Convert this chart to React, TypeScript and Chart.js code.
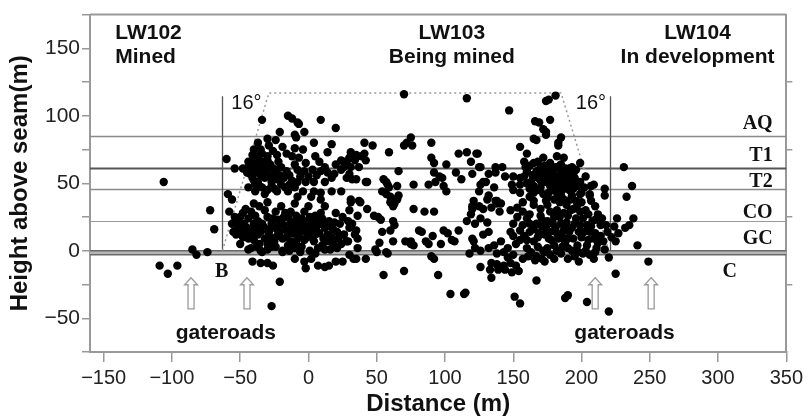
import React, { useEffect, useRef } from "react";
import { Chart, registerables } from "chart.js";

Chart.register(...registerables);

type P = [number, number];

// ---------- axes ----------
const xTickValues = [-150, -100, -50, 0, 50, 100, 150, 200, 250, 300, 350];
const yTickValues = [-75, -50, -25, 0, 25, 50, 75, 100, 125, 150, 175];
const yLabelValues = [-50, 0, 50, 100, 150];
const yRightTickValues = [-25, 25, 75, 125];

// ---------- strata / geometry (data units) ----------
const seamLevelNames = ["AQ", "T1", "T2", "CO"];
const seamLevels = [85, 61, 46, 22];
const gcLevels = [0, -3];
const seamLabelNames = ["AQ", "T1", "T2", "CO", "GC"];
const seamLabelHeights = [94, 70, 51, 28, 9];
const panelNames = ["LW102", "LW103", "LW104"];
const panelStates = ["Mined", "Being mined", "In development"];
const gateroadArrowX = [-86, -45, 210, 251];
const angleLineX = [-63, 221];
const angleLineTop = 114.5;
const angleZone: P[] = [[-63, 0], [-29, 117], [185, 117], [220, 0]];

// ---------- microseismic events (distance m, height above seam m) ----------
const eventsOuterLeft: P[] = [
  [-106, 51], [-109, -11], [-103, -17], [-96, -11], [-85, 1], [-82, -3], [-74, -1],
  [-72, 30], [-69, 16], [-60, 68], [-54, 61], [-48, 61], [-59, 42], [-56, 38],
  [-41, -8], [-35, -9], [-30, -9], [-26, -11], [-42, 2], [-34, -1], [-19, -1],
  [-21, -23], [-27, -41],
];

const eventsLeftUpper: P[] = [
  [-15, 100], [-12, 98], [-34, 97], [-7, 94], [9, 97], [20, 91], [-21, 88], [-10, 86],
  [-9, 84], [-30, 83], [-37, 80], [4, 80], [17, 79], [-19, 77], [-10, 76], [-4, 75],
  [14, 73], [-41, 71], [-37, 70], [-34, 72], [-23, 71], [-12, 70], [-7, 69], [-44, 66],
  [-39, 65], [-34, 66], [-30, 67], [8, 66], [24, 67], [26, 66], [-42, 60], [-37, 61],
  [-32, 59], [-26, 61], [-20, 62], [-16, 59], [-10, 64], [-8, 60], [-3, 59], [3, 60],
  [9, 59], [14, 58], [19, 57], [24, 60], [28, 64], [-41, 54], [-37, 51], [-32, 54],
  [-27, 51], [-23, 53], [-39, 49], [-34, 47], [-27, 48], [-20, 49], [-14, 49], [-8, 51],
  [-2, 51], [4, 51], [12, 51], [17, 54], [-39, 44], [-32, 42], [-23, 44], [-15, 44],
  [-10, 47], [-4, 44], [4, 44], [9, 43], [17, 44], [24, 44], [-8, 40], [2, 40], [9, 38],
  [-3, 88], [-8, 95], [-44, 62], [-40, 68], [-36, 63], [-28, 64], [-25, 57], [-35, 56],
  [-30, 70], [-43, 57], [-22, 66], [-45, 58], [-42, 64], [-38, 58], [-36, 67], [-33, 62],
  [-31, 57], [-29, 61], [-27, 55], [-24, 60], [-21, 56], [-18, 54], [-14, 56], [-40, 52],
  [-36, 48], [-30, 45], [-25, 46], [-44, 47], [-17, 47], [-12, 52], [-6, 55], [0, 55],
  [6, 56], [-35, 75], [-26, 74], [-29, 78], [-40, 75], [-24, 82], [-16, 72], [-2, 65],
  [5, 70], [12, 62], [20, 64],
];

const eventsLeftLower: P[] = [
  [-58, 29], [-54, 25], [-56, 20], [-52, 18], [-55, 14], [-53, 12], [-49, 16], [-47, 20],
  [-44, 24], [-42, 29], [-46, 31], [-39, 26], [-37, 22], [-38, 17], [-35, 14], [-41, 12],
  [-44, 9], [-32, 9], [-28, 16], [-27, 20], [-30, 25], [-32, 30], [-24, 29], [-22, 23],
  [-25, 18], [-21, 14], [-19, 9], [-25, 7], [-18, 19], [-15, 25], [-13, 29], [-10, 22],
  [-8, 17], [-11, 13], [-7, 11], [-5, 24], [-3, 29], [1, 25], [0, 19], [-2, 14], [2, 12],
  [4, 7], [6, 18], [7, 23], [9, 28], [12, 17], [14, 12], [15, 22], [18, 16], [21, 14],
  [26, 12], [28, 7], [-13, 7], [-9, 5], [-3, 8], [14, 7], [18, 5], [24, 5], [-44, 1],
  [-35, 0], [-19, 0], [-10, 2], [1, 0], [7, 2], [12, 1], [21, 2], [-10, -6], [-3, -8],
  [2, -6], [-2, -13], [7, -11], [12, -12], [15, -11], [20, -8], [25, -8], [-50, 25],
  [-40, 20], [-33, 18], [-29, 12], [-23, 11], [-16, 15], [-12, 18], [-6, 20], [-1, 22],
  [3, 16], [9, 20], [11, 9], [5, 26], [-17, 28], [-48, 10], [-36, 5], [-27, 3], [-15, 4],
  [-5, 3], [10, 4], [17, 10], [23, 20], [30, 30], [-20, 33], [-10, 35], [0, 33], [12, 33],
  [20, 28], [25, 25], [-40, 35], [-30, 36], [-52, 22], [-50, 14], [-46, 12], [-45, 17],
  [-42, 16], [-40, 8], [-37, 12], [-34, 20], [-31, 16], [-30, 5], [-27, 9], [-26, 24],
  [-23, 16], [-20, 20], [-18, 25], [-16, 10], [-13, 21], [-12, 13], [-9, 26], [-8, 9],
  [-6, 15], [-4, 18], [-1, 10], [1, 15], [3, 21], [5, 12], [8, 13], [10, 24], [13, 20],
  [16, 18], [19, 21], [22, 9], [-38, 3], [-30, 1], [-24, 3], [-14, 0], [-6, -1], [5, -2],
  [16, 1], [-50, 5], [-48, 28], [-36, 33],
];

const eventsMiddleUpper: P[] = [
  [70, 116], [116, 113], [75, 84], [72, 80], [76, 78], [70, 78], [90, 80], [41, 80],
  [47, 78], [59, 73], [31, 73], [35, 71], [39, 70], [41, 72], [30, 69], [34, 67], [28, 66],
  [37, 62], [42, 67], [110, 72], [116, 73], [123, 72], [90, 69], [92, 65], [119, 66],
  [101, 64], [108, 58], [112, 53], [66, 59], [30, 57], [32, 53], [35, 53], [28, 54],
  [92, 58], [96, 55], [98, 54], [93, 51], [43, 51], [57, 51], [58, 49], [65, 48], [77, 49],
  [88, 49], [99, 48], [101, 44], [54, 44], [31, 38], [37, 37], [66, 41], [64, 38], [61, 37],
  [121, 37], [36, 70], [31, 62], [26, 62], [42, 51], [55, 53], [59, 47], [57, 42], [60, 40],
  [63, 35], [125, 62], [120, 57], [132, 57], [137, 62], [144, 55], [125, 44], [130, 51],
  [120, 33], [125, 33], [132, 41], [137, 37],
];

const eventsMiddleLower: P[] = [
  [31, 36], [38, 36], [43, 31], [60, 36], [62, 33], [65, 38], [77, 31], [85, 29], [92, 29],
  [120, 31], [119, 27], [48, 26], [51, 25], [53, 23], [36, 26], [62, 22], [63, 19], [60, 15],
  [29, 22], [32, 20], [30, 17], [35, 15], [34, 12], [36, 9], [29, 7], [26, 12], [54, 14],
  [52, 6], [62, 7], [36, 2], [49, 1], [57, -1], [58, -2], [71, 7], [75, 7], [77, 4],
  [75, 5], [81, 15], [83, 14], [86, 7], [88, 5], [91, 11], [97, 5], [99, 15], [102, 13],
  [107, 7], [105, 8], [110, 15], [116, 22], [122, 20], [120, 9], [118, -2], [122, 2],
  [90, -4], [92, -6], [30, -3], [33, -6], [42, -6], [55, -18], [70, -15], [95, -18],
  [104, -32], [114, -32], [115, -31], [35, -6], [50, -1], [134, -9], [139, -14], [149, -16],
  [154, -15], [134, -20], [161, -4], [166, -7], [171, -6], [173, -1],
];

const eventsRightUpper: P[] = [
  [181, 115], [176, 112], [174, 111], [147, 104], [166, 96], [169, 95], [177, 97], [172, 90],
  [174, 88], [174, 86], [165, 83], [167, 82], [185, 84], [183, 80], [183, 78], [155, 77],
  [160, 72], [124, 72], [172, 69], [142, 62], [137, 58], [126, 62], [159, 62], [165, 65],
  [170, 62], [167, 59], [177, 65], [181, 62], [185, 64], [188, 61], [193, 62], [199, 65],
  [160, 59], [170, 57], [174, 59], [179, 58], [185, 59], [190, 58], [194, 57], [183, 54],
  [178, 53], [188, 53], [174, 51], [194, 51], [199, 51], [163, 51], [155, 54], [150, 55],
  [149, 49], [155, 49], [165, 48], [170, 47], [177, 48], [185, 49], [189, 47], [194, 46],
  [199, 42], [182, 43], [172, 42], [165, 43], [155, 43], [136, 47], [128, 51], [131, 38],
  [126, 49], [217, 46], [209, 49], [206, 42], [231, 62], [182, 70], [187, 69], [196, 37],
  [187, 38], [174, 37], [165, 37], [138, 37], [237, 48], [233, 40], [217, 41], [207, 48],
  [200, 43], [206, 41], [193, 41], [175, 55], [180, 50], [186, 45], [168, 54], [192, 55],
  [196, 60], [162, 46], [178, 45], [170, 52], [158, 66], [162, 63], [168, 66], [173, 63],
  [176, 60], [180, 56], [184, 63], [187, 57], [191, 61], [195, 54], [197, 48], [191, 45],
  [183, 46], [176, 43], [168, 45], [160, 50], [158, 55], [164, 56], [172, 56], [181, 52],
  [186, 50], [192, 50], [202, 47], [203, 55], [180, 47], [175, 40], [185, 41], [162, 40],
  [150, 45],
];

const eventsRightLower: P[] = [
  [128, 31], [134, 32], [138, 35], [140, 29], [126, 24], [131, 21], [132, 14], [128, 12],
  [121, 7], [126, 0], [132, 2], [136, 4], [141, 7], [138, -2], [143, -1], [146, -5],
  [148, -9], [152, -11], [143, -11], [138, -10], [133, -14], [126, -12], [144, -14],
  [148, 14], [150, 11], [155, 15], [157, 19], [160, 24], [162, 14], [165, 7], [160, 2],
  [157, 29], [162, 27], [170, 26], [167, 20], [171, 18], [173, 12], [177, 14], [181, 17],
  [183, 9], [186, 3], [180, 4], [172, 0], [177, -3], [167, -4], [170, 31], [177, 29],
  [184, 25], [189, 21], [187, 15], [191, 14], [194, 9], [197, 4], [193, 0], [199, 29],
  [201, 24], [204, 19], [206, 14], [209, 9], [204, 4], [201, -2], [206, -3], [211, 2],
  [214, 19], [212, 27], [194, 31], [197, 34], [189, 34], [184, 36], [180, 38], [175, 34],
  [165, 34], [157, 36], [141, 35], [219, 14], [220, -5], [224, 18], [226, 24], [216, 7],
  [167, -22], [151, -34], [155, -39], [188, -35], [190, -33], [204, -38], [225, -17],
  [220, -45], [227, 13], [232, 17], [235, 19], [238, 24], [225, 7], [241, 4], [249, -8],
  [175, 22], [180, 25], [185, 20], [190, 26], [195, 20], [198, 14], [178, 8], [188, 6],
  [200, 10], [203, 30], [208, 22], [168, 10], [160, 8], [152, 5], [163, -1], [185, -2],
  [195, -4], [210, -1], [215, 24], [192, 38], [200, 36], [210, 33], [207, 37], [150, 20],
  [153, 25], [158, 11], [162, 20], [165, 16], [169, 13], [171, 23], [174, 17], [176, 9],
  [179, 20], [182, 13], [186, 10], [188, 18], [190, 9], [193, 17], [196, 24], [199, 19],
  [202, 14], [205, 8], [207, 18], [210, 13], [212, 6], [214, 11], [203, 0], [198, -1],
  [190, 2], [182, 0], [175, 2], [168, 3], [155, 8], [146, 2], [150, -3], [157, -6],
  [173, -8], [180, -6], [190, -6], [198, -8], [209, -6], [217, 1], [218, 19], [222, 10],
  [182, 30], [187, 28], [192, 30], [205, 27], [210, 23], [148, 30], [153, 32],
];

const eventGroups: P[][] = [
  eventsOuterLeft, eventsLeftUpper, eventsLeftLower, eventsMiddleUpper,
  eventsMiddleLower, eventsRightUpper, eventsRightLower,
];

const SANS = "'Liberation Sans', Arial, Helvetica, sans-serif";
const SERIF = "'Liberation Serif', 'Times New Roman', serif";

const minus = (v: number) => String(v).replace("-", "\u2212");

const overlay = {
  id: "overlay",
  beforeDatasetsDraw(chart: any) {
    const { ctx, chartArea: a, scales } = chart;
    const x = scales.x, y = scales.y;
    ctx.save();
    // top frame
    ctx.strokeStyle = "#999";
    ctx.lineWidth = 2;
    ctx.beginPath();
    ctx.moveTo(a.left, a.top);
    ctx.lineTo(a.right, a.top);
    ctx.stroke();

    // seam level lines
    const styles: Record<string, [string, number]> = {
      AQ: ["#8a8a8a", 1.5], T1: ["#555", 2], T2: ["#8a8a8a", 1.4], CO: ["#9a9a9a", 1.2],
    };
    seamLevels.forEach((lv, i) => {
      const [c, w] = styles[seamLevelNames[i]];
      const py = Math.round(y.getPixelForValue(lv)) + 0.5;
      ctx.strokeStyle = c;
      ctx.lineWidth = w;
      ctx.beginPath();
      ctx.moveTo(a.left, py);
      ctx.lineTo(a.right, py);
      ctx.stroke();
    });
    // GC double band
    const g0 = y.getPixelForValue(gcLevels[0]);
    const g1 = y.getPixelForValue(gcLevels[1]);
    ctx.fillStyle = "#b5b5b5";
    ctx.fillRect(a.left, g0, a.right - a.left, g1 - g0);
    ctx.strokeStyle = "#6a6a6a";
    ctx.lineWidth = 1.5;
    [g0, g1].forEach((py) => {
      ctx.beginPath();
      ctx.moveTo(a.left, py);
      ctx.lineTo(a.right, py);
      ctx.stroke();
    });

    // 16 degree verticals
    ctx.strokeStyle = "#555";
    ctx.lineWidth = 1.3;
    angleLineX.forEach((vx) => {
      const px = Math.round(x.getPixelForValue(vx)) + 0.5;
      ctx.beginPath();
      ctx.moveTo(px, y.getPixelForValue(0));
      ctx.lineTo(px, y.getPixelForValue(angleLineTop));
      ctx.stroke();
    });

    // dotted angle-of-draw zone
    ctx.strokeStyle = "#999";
    ctx.lineWidth = 1.5;
    ctx.setLineDash([2, 3]);
    ctx.beginPath();
    angleZone.forEach(([vx, vy], i) => {
      const px = x.getPixelForValue(vx), py = y.getPixelForValue(vy);
      if (i === 0) ctx.moveTo(px, py); else ctx.lineTo(px, py);
    });
    ctx.stroke();
    ctx.setLineDash([]);
    ctx.restore();
  },
  afterDatasetsDraw(chart: any) {
    const { ctx, scales } = chart;
    const x = scales.x, y = scales.y;
    ctx.save();
    ctx.fillStyle = "#111";
    ctx.textBaseline = "middle";

    // panel labels
    ctx.font = `bold 21px ${SANS}`;
    const panelX = [-141.5, 105, 285];
    const panelAlign = ["left", "center", "center"];
    panelNames.forEach((n, i) => {
      ctx.textAlign = panelAlign[i];
      ctx.fillText(n, x.getPixelForValue(panelX[i]), y.getPixelForValue(161.5));
      ctx.fillText(panelStates[i], x.getPixelForValue(panelX[i]), y.getPixelForValue(143.5));
    });

    // 16 deg
    ctx.font = `20px ${SANS}`;
    ctx.textAlign = "left";
    ctx.fillText("16\u00b0", x.getPixelForValue(-56.5), y.getPixelForValue(109.5));
    ctx.textAlign = "right";
    ctx.fillText("16\u00b0", x.getPixelForValue(218), y.getPixelForValue(109.5));

    // seam names
    ctx.font = `bold 20px ${SERIF}`;
    ctx.textAlign = "right";
    seamLabelNames.forEach((n, i) => {
      ctx.fillText(n, x.getPixelForValue(340), y.getPixelForValue(seamLabelHeights[i]));
    });
    ctx.textAlign = "center";
    ctx.fillText("B", x.getPixelForValue(-63.5), y.getPixelForValue(-15.5));
    ctx.fillText("C", x.getPixelForValue(308.5), y.getPixelForValue(-15.5));

    // gateroads
    ctx.font = `bold 21px ${SANS}`;
    ctx.fillText("gateroads", x.getPixelForValue(-60.5), y.getPixelForValue(-61));
    ctx.fillText("gateroads", x.getPixelForValue(231.5), y.getPixelForValue(-61));

    // hollow arrows
    ctx.strokeStyle = "#9a9a9a";
    ctx.fillStyle = "#fff";
    ctx.lineWidth = 1.3;
    gateroadArrowX.forEach((ax) => {
      const cx = x.getPixelForValue(ax);
      const tip = y.getPixelForValue(-20);
      const bot = y.getPixelForValue(-43);
      const hb = tip + 7;
      ctx.beginPath();
      ctx.moveTo(cx, tip);
      ctx.lineTo(cx + 6.5, hb);
      ctx.lineTo(cx + 3, hb);
      ctx.lineTo(cx + 3, bot);
      ctx.lineTo(cx - 3, bot);
      ctx.lineTo(cx - 3, hb);
      ctx.lineTo(cx - 6.5, hb);
      ctx.closePath();
      ctx.fill();
      ctx.stroke();
    });
    ctx.restore();
  },
};

export default function App() {
  const ref = useRef<HTMLCanvasElement | null>(null);
  useEffect(() => {
    if (!ref.current) return;
    Chart.defaults.font.family = SANS;
    const chart = new Chart(ref.current, {
      type: "scatter",
      data: {
        datasets: eventGroups.map((g, i) => ({
          label: `events${i}`,
          data: g.map(([dx, hy]) => ({ x: dx, y: hy })),
          pointRadius: 4.2,
          pointHoverRadius: 4.2,
          backgroundColor: "#000",
          borderWidth: 0,
        })),
      },
      options: {
        responsive: false,
        animation: false,
        events: [],
        layout: { padding: { top: 7, left: 0, right: 0, bottom: 0 } },
        plugins: { legend: { display: false }, tooltip: { enabled: false } },
        scales: {
          x: {
            type: "linear",
            position: "bottom",
            min: -160,
            max: 350,
            afterBuildTicks: (s: any) => { s.ticks = xTickValues.map((v) => ({ value: v })); },
            afterFit: (s: any) => { s.height = 67; },
            ticks: {
              font: { size: 20 }, color: "#222", padding: 4, maxRotation: 0, autoSkip: false,
              callback: (v: any) => minus(Number(v)),
            },
            grid: { drawOnChartArea: false, drawTicks: true, tickLength: 10, color: "#999", lineWidth: 1.5 },
            border: { display: true, color: "#999", width: 2 },
            title: {
              display: true, text: "Distance (m)", color: "#111",
              font: { size: 24, weight: "bold" }, padding: { top: 0, bottom: 0 },
            },
          },
          y: {
            type: "linear",
            position: "left",
            min: -75,
            max: 175,
            afterBuildTicks: (s: any) => { s.ticks = yTickValues.map((v) => ({ value: v })); },
            afterFit: (s: any) => { s.width = 90; },
            ticks: {
              font: { size: 21 }, color: "#222", padding: 2, autoSkip: false,
              callback: (v: any) => (yLabelValues.includes(Number(v)) ? minus(Number(v)) : ""),
            },
            grid: { drawOnChartArea: false, drawTicks: true, tickLength: 8, color: "#999", lineWidth: 1.5 },
            border: { display: true, color: "#999", width: 2 },
            title: {
              display: true, text: "Height above seam(m)", color: "#111",
              font: { size: 24, weight: "bold" }, padding: { top: 6, bottom: 0 },
            },
          },
          y2: {
            type: "linear",
            position: "right",
            min: -75,
            max: 175,
            afterBuildTicks: (s: any) => { s.ticks = yRightTickValues.map((v) => ({ value: v })); },
            afterFit: (s: any) => { s.width = 17; },
            ticks: { display: false },
            grid: { drawOnChartArea: false, drawTicks: true, tickLength: 6, color: "#999", lineWidth: 1.5 },
            border: { display: true, color: "#999", width: 2 },
          },
        },
      } as any,
      plugins: [overlay as any],
    });
    return () => chart.destroy();
  }, []);
  return (
    <div style={{ position: "fixed", left: 0, top: 0, width: 807, height: 419, background: "#fff" }}>
      <canvas ref={ref} width={807} height={419} style={{ display: "block", width: 807, height: 419 }} />
    </div>
  );
}
